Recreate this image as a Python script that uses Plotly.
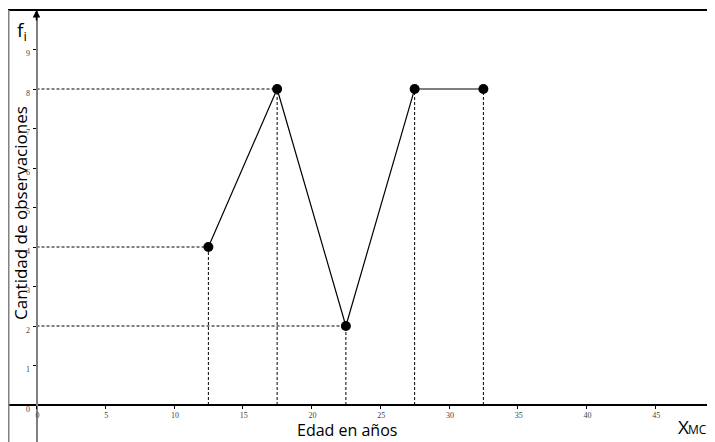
import plotly.graph_objects as go

# Data
x_mc = [12.5, 17.5, 22.5, 27.5, 32.5]
f_i = [4, 8, 2, 8, 8]
x_ticks = [0, 5, 10, 15, 20, 25, 30, 35, 40, 45]
y_ticks = [0, 1, 2, 3, 4, 5, 6, 7, 8, 9]

# page is offset by the body margin (8px); figure covers the rest of the window
OFF = 8
W, H = 715 - OFF, 442 - OFF


def px(xp):  # page x pixel -> paper fraction
    return (xp - OFF) / W


def py(yp):  # page y pixel -> paper fraction
    return 1 - (yp - OFF) / H


X_RANGE = [(8 - 36.5) / 13.75, (715 - 36.5) / 13.75]
Y_RANGE = [(405 - 442) / 39.5, (405 - 10) / 39.5]

fig = go.Figure()

# vertical dashed guides
vx, vy = [], []
for x, y in zip(x_mc, f_i):
    vx += [x, x, None]
    vy += [0, y, None]
# horizontal dashed guides (to first point with that value)
hx, hy = [], []
seen = set()
for x, y in zip(x_mc, f_i):
    if y in seen:
        continue
    seen.add(y)
    hx += [0, x, None]
    hy += [y, y, None]

dash_line = dict(color="black", width=1, dash="3px,2px")
fig.add_trace(go.Scatter(x=vx, y=vy, mode="lines", line=dash_line, hoverinfo="skip"))
fig.add_trace(go.Scatter(x=hx, y=hy, mode="lines", line=dash_line, hoverinfo="skip"))
fig.add_trace(go.Scatter(x=x_mc, y=f_i, mode="lines+markers",
                         line=dict(color="black", width=1.2),
                         marker=dict(color="black", size=10)))

tick_font = dict(family="Liberation Serif", size=8, color="#444")
fig.update_layout(
    width=W, height=H,
    margin=dict(l=0, r=0, t=0, b=0),
    paper_bgcolor="white", plot_bgcolor="white",
    showlegend=False,
    xaxis=dict(range=X_RANGE, domain=[0, 1], anchor="free", position=py(405),
               showline=True, linecolor="black", linewidth=1.5,
               showgrid=False, zeroline=False,
               tickvals=x_ticks, ticktext=[str(t) for t in x_ticks],
               ticks="outside", ticklen=3, tickcolor="black", tickwidth=1,
               tickfont=tick_font, ticklabelstandoff=0, ticklabelshift=1),
    yaxis=dict(range=Y_RANGE, domain=[0, py(10)], anchor="free", position=px(36.5),
               showline=True, linecolor="#808080", linewidth=2,
               showgrid=False, zeroline=False,
               tickvals=y_ticks, ticktext=[str(t) for t in y_ticks],
               ticks="outside", ticklen=3, tickcolor="black", tickwidth=1,
               tickfont=tick_font, ticklabelshift=4, ticklabelstandoff=1),
)

# frame lines
fig.add_shape(type="line", xref="paper", yref="paper", x0=0, x1=1,
              y0=py(10), y1=py(10), line=dict(color="black", width=2))
fig.add_shape(type="line", xref="paper", yref="paper", x0=px(8.75), x1=px(8.75),
              y0=0, y1=py(10), line=dict(color="#808080", width=1.5))

# arrow at top of y axis
fig.add_annotation(xref="paper", yref="paper", x=px(36.5), y=py(10),
                   ax=0, ay=12, showarrow=True, arrowhead=2, arrowsize=1,
                   arrowwidth=1.5, arrowcolor="black", text="")

label_font = dict(family="Open Sans", size=16, color="black")
common = dict(xref="paper", yref="paper", showarrow=False,
              xanchor="center", yanchor="middle")
fig.add_annotation(x=px(22), y=py(31), text="f<sub>i</sub>",
                   font=dict(family="Open Sans", size=19, color="black"), **common)
fig.add_annotation(x=px(20), y=py(213), text="Cantidad de observaciones", textangle=-90,
                   font=dict(family="Open Sans", size=17, color="black"), **common)
fig.add_annotation(x=px(347), y=py(430), text="Edad en años", font=label_font, **common)
# X_MC label: large X followed by small "MC" on the same baseline
bottom = dict(xref="paper", yref="paper", showarrow=False,
              xanchor="center", yanchor="bottom", borderpad=0)
fig.add_annotation(x=px(683), y=py(441), text="X",
                   font=dict(family="Open Sans", size=19, color="black"), **bottom)
fig.add_annotation(x=px(697), y=py(439), text="MC",
                   font=dict(family="Open Sans", size=12, color="black"), **bottom)

fig.write_html("out.html")
